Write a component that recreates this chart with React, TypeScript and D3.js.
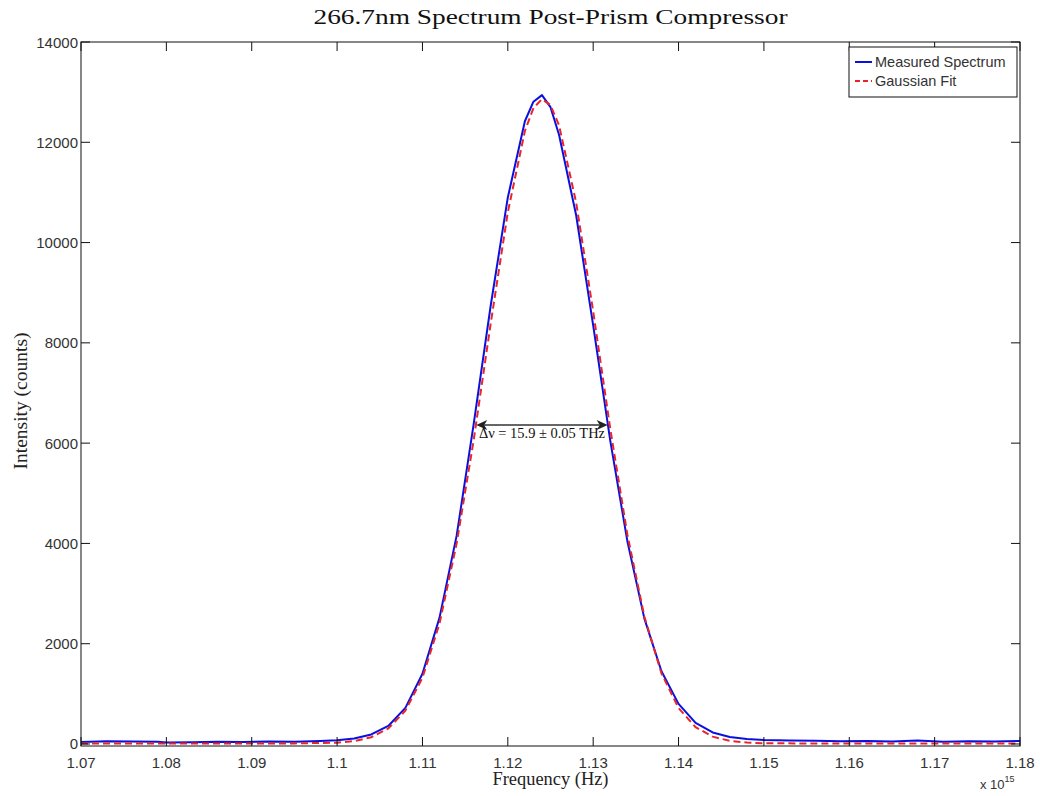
import React from "react";
import * as d3 from "d3";

// Frequency (units of 1e15 Hz)
const measuredFreq = [
  1.07, 1.073, 1.076, 1.079, 1.08, 1.083, 1.086, 1.089, 1.092, 1.095, 1.098,
  1.1, 1.102, 1.104, 1.106, 1.108, 1.11, 1.112, 1.114, 1.116, 1.118, 1.12,
  1.122, 1.123, 1.124, 1.125, 1.126, 1.128, 1.13, 1.132, 1.134, 1.136, 1.138,
  1.14, 1.142, 1.144, 1.146, 1.148, 1.15, 1.153, 1.156, 1.159, 1.162, 1.165,
  1.168, 1.171, 1.174, 1.177, 1.18,
];
const measuredCounts = [
  40, 55, 50, 45, 30, 35, 45, 40, 50, 45, 60,
  75, 110, 190, 360, 720, 1400, 2520, 4150, 6380, 8750, 10900,
  12420, 12810, 12940, 12700, 12150, 10550, 8350, 6050, 4050, 2500, 1450,
  800, 420, 230, 140, 100, 80, 70, 65, 55, 60, 50,
  70, 45, 55, 50, 60,
];

const fitFreq = [
  1.07, 1.08, 1.09, 1.095, 1.1, 1.102, 1.104, 1.106, 1.108, 1.11, 1.112,
  1.114, 1.116, 1.118, 1.12, 1.122, 1.123, 1.124, 1.125, 1.126, 1.128, 1.13,
  1.132, 1.134, 1.136, 1.138, 1.14, 1.142, 1.144, 1.146, 1.148, 1.15, 1.155,
  1.16, 1.17, 1.18,
];
const fitCounts = [
  10, 10, 10, 12, 26, 57, 135, 309, 666, 1322, 2404,
  3995, 6061, 8393, 10605, 12225, 12683, 12860, 12741, 12338, 10801, 8627,
  6287, 4181, 2539, 1408, 715, 335, 146, 62, 28, 16, 10,
  10, 10, 10,
];

const xTicks = [1.07, 1.08, 1.09, 1.1, 1.11, 1.12, 1.13, 1.14, 1.15, 1.16, 1.17, 1.18];
const yTicks = [0, 2000, 4000, 6000, 8000, 10000, 12000, 14000];

const titleText = "266.7nm Spectrum Post-Prism Compressor";
const xLabel = "Frequency (Hz)";
const yLabel = "Intensity (counts)";
const legendLabels = ["Measured Spectrum", "Gaussian Fit"];
const annotation = "\u0394\u03bd = 15.9 \u00b1 0.05 THz";
const arrowFreq = [1.1163, 1.1317];
const arrowLevel = 6360;

const W = 1040;
const H = 796;
const L = 81, R = 1020, T = 42, B = 746;

export default function App() {
  const x = d3.scaleLinear().domain([1.07, 1.18]).range([L, R]);
  const y = d3.scaleLinear().domain([-40, 14000]).range([B, T]);

  const line = d3
    .line<[number, number]>()
    .x((d) => x(d[0]))
    .y((d) => y(d[1]))
    .curve(d3.curveLinear);

  const measured = measuredFreq.map((f, i) => [f, measuredCounts[i]] as [number, number]);
  const fit = fitFreq.map((f, i) => [f, fitCounts[i]] as [number, number]);

  const sans = "'Liberation Sans', Arial, sans-serif";
  const serif = "'Liberation Serif', 'Times New Roman', serif";
  const tickLen = 9;
  const blue = "#0a10e0";
  const red = "#e8262a";
  const tickFont = 15;

  const ax0 = x(arrowFreq[0]);
  const ax1 = x(arrowFreq[1]);
  const ay = y(arrowLevel);

  return (
    <svg width={W} height={H} style={{ position: "absolute", left: 0, top: 0, background: "#fff" }}>
      <defs>
        <clipPath id="plotclip">
          <rect x={L} y={T} width={R - L} height={B - T} />
        </clipPath>
      </defs>
      <rect x={0} y={0} width={W} height={H} fill="#fff" />
      <text
        x={(L + R) / 2}
        y={24}
        textAnchor="middle"
        fontFamily={serif}
        fontSize={20}
        fill="#111"
        textLength={474}
        lengthAdjust="spacingAndGlyphs"
      >
        {titleText}
      </text>

      <g clipPath="url(#plotclip)">
        <path d={line(measured) || ""} fill="none" stroke={blue} strokeWidth={2} strokeLinejoin="round" />
        <path d={line(fit) || ""} fill="none" stroke={red} strokeWidth={2} strokeDasharray="7,4" />
      </g>

      {/* frame */}
      <rect x={L} y={T} width={R - L} height={B - T} fill="none" stroke="#111" strokeWidth={1} />

      {/* x ticks */}
      {xTicks.map((t) => (
        <g key={"x" + t}>
          <line x1={x(t)} x2={x(t)} y1={B} y2={B - tickLen} stroke="#111" />
          <line x1={x(t)} x2={x(t)} y1={T} y2={T + tickLen} stroke="#111" />
          <text x={x(t)} y={767.5} textAnchor="middle" fontFamily={sans} fontSize={tickFont} fill="#333">
            {String(t)}
          </text>
        </g>
      ))}
      {/* y ticks */}
      {yTicks.map((t) => (
        <g key={"y" + t}>
          <line x1={L} x2={L + tickLen} y1={y(t)} y2={y(t)} stroke="#111" />
          <line x1={R} x2={R - tickLen} y1={y(t)} y2={y(t)} stroke="#111" />
          <text x={78} y={y(t) + 5.5} textAnchor="end" fontFamily={sans} fontSize={tickFont} fill="#333">
            {String(t)}
          </text>
        </g>
      ))}

      {/* exponent */}
      <text x={980} y={789} fontFamily={sans} fontSize={13} fill="#333">
        {"x 10"}
        <tspan dy={-7} fontSize={9}>15</tspan>
      </text>

      <text
        x={(L + R) / 2}
        y={785}
        textAnchor="middle"
        fontFamily={serif}
        fontSize={18}
        fill="#222"
        textLength={116}
        lengthAdjust="spacingAndGlyphs"
      >
        {xLabel}
      </text>
      <text
        transform={`translate(27, 401) rotate(-90)`}
        textAnchor="middle"
        fontFamily={serif}
        fontSize={18}
        fill="#222"
        textLength={137}
        lengthAdjust="spacingAndGlyphs"
      >
        {yLabel}
      </text>

      {/* annotation arrow */}
      <line x1={ax0 + 8} x2={ax1 - 8} y1={ay} y2={ay} stroke="#333" strokeWidth={1.5} />
      <path d={`M${ax0},${ay} L${ax0 + 11},${ay - 5} L${ax0 + 8},${ay} L${ax0 + 11},${ay + 5} Z`} fill="#222" />
      <path d={`M${ax1},${ay} L${ax1 - 11},${ay - 5} L${ax1 - 8},${ay} L${ax1 - 11},${ay + 5} Z`} fill="#222" />
      <text
        x={(ax0 + ax1) / 2}
        y={ay + 12.5}
        textAnchor="middle"
        fontFamily={serif}
        fontSize={14.5}
        fill="#111"
        textLength={126}
        lengthAdjust="spacingAndGlyphs"
      >
        {annotation}
      </text>

      {/* legend */}
      <rect x={849} y={47} width={168} height={50} fill="#fff" stroke="#111" strokeWidth={1} />
      <line x1={855} x2={872} y1={62} y2={62} stroke={blue} strokeWidth={2} />
      <line x1={855} x2={872} y1={81} y2={81} stroke={red} strokeWidth={2} strokeDasharray="5,3" />
      <text x={875} y={67} fontFamily={sans} fontSize={14.5} fill="#333">
        {legendLabels[0]}
      </text>
      <text x={875} y={86} fontFamily={sans} fontSize={14.5} fill="#333">
        {legendLabels[1]}
      </text>
    </svg>
  );
}
